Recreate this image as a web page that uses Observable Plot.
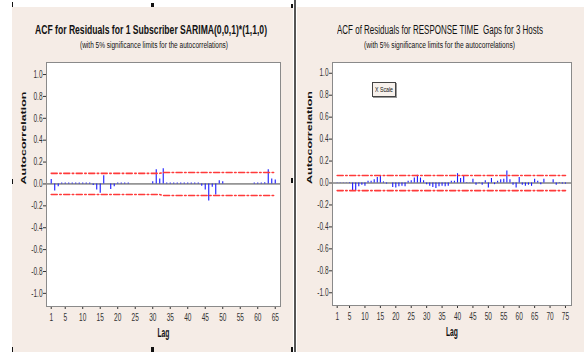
<!DOCTYPE html>
<html><head><meta charset="utf-8">
<script src="https://cdn.jsdelivr.net/npm/d3@7"></script>
<script src="https://cdn.jsdelivr.net/npm/@observablehq/plot@0.6"></script>
<style>
html,body{margin:0;padding:0;background:#fff;}
#root{position:relative;width:584px;height:352px;overflow:hidden;background:#fff;font-family:"Liberation Sans",Arial,sans-serif;}
.panel{position:absolute;background:#f5ece6;}
.txt{position:absolute;white-space:pre;color:#111;transform-origin:0 0;line-height:1;}
.plotbox{position:absolute;}
.plotbox svg{display:block;}
.handle{position:absolute;background:#111;}
#xscale{position:absolute;left:372px;top:82px;width:22px;height:13px;border:1px solid #444;background:#f7f1ec;box-shadow:1px 1px 0 #999;}
#xscale span{position:absolute;left:2px;top:3px;font-size:7px;white-space:nowrap;transform-origin:0 0;color:#111;line-height:1;}
</style></head><body>
<div id="root">
  <div class="panel" style="left:12px;top:7px;width:281px;height:345px;"></div>
  <div class="panel" style="left:297px;top:7px;width:287px;height:345px;"></div>
  <div style="position:absolute;left:294px;top:0;width:2px;height:352px;background:#555;"></div>
  <div class="handle" style="left:12px;top:2px;width:1px;height:5px;"></div>
  <div class="handle" style="left:151px;top:3px;width:3px;height:4px;"></div>
  <div class="handle" style="left:291px;top:4px;width:2px;height:4px;"></div>
  <div class="handle" style="left:12px;top:179px;width:1px;height:5px;"></div>
  <div class="handle" style="left:291px;top:178px;width:2px;height:5px;"></div>
  <div class="handle" style="left:12px;top:347px;width:1px;height:5px;"></div>
  <div class="handle" style="left:151px;top:347px;width:3px;height:5px;"></div>
  <div class="handle" style="left:291px;top:347px;width:2px;height:5px;"></div>

  <div class="txt" id="t1" style="left:35px;top:24px;font-size:12.5px;font-weight:bold;"></div>
  <div class="txt" id="s1" style="left:80px;top:41px;font-size:8.5px;"></div>
  <div class="txt" id="t2" style="left:337px;top:24px;font-size:12.5px;"></div>
  <div class="txt" id="s2" style="left:364px;top:41px;font-size:8.5px;"></div>

  <div class="plotbox" id="p1" style="left:12px;top:56px;"></div>
  <div class="plotbox" id="p2" style="left:297px;top:56px;"></div>
  <div id="xscale"><span id="xs"></span></div>
</div>
<script>
// ---- text ----
const titleLeft = "ACF for Residuals for 1 Subscriber SARIMA(0,0,1)*(1,1,0)";
const titleRight = "ACF of Residuals for RESPONSE TIME  Gaps for 3 Hosts";
const subtitle = "(with 5% significance limits for the autocorrelations)";
const xLabel = "Lag";
const yLabel = "Autocorrelation";
const boxLabel = "X Scale";

// ---- ticks ----
const lagTicksLeft = [1,5,10,15,20,25,30,35,40,45,50,55,60,65];
const lagTicksRight = [1,5,10,15,20,25,30,35,40,45,50,55,60,65,70,75];
const yTicks = [-1,-0.8,-0.6,-0.4,-0.2,0,0.2,0.4,0.6,0.8,1];

// ---- left chart: ACF by lag (lag = index + 1) ----
const acfLeft = [
  0.04,-0.065,-0.025,0.008,0.008,0.008,0.008,0.008,0.008,0.008,
  0.008,0.008,-0.015,-0.055,-0.085,0.075,0.0,-0.05,-0.025,0.008,
  0.008,0.008,0.008,0.0,0.0,0.0,0.0,0.0,0.0,0.02,
  0.13,0.045,0.14,0.008,0.008,0.008,0.008,0.008,0.008,0.008,
  0.008,0.008,0.008,-0.02,-0.055,-0.155,-0.03,-0.1,0.03,0.02,
  0.0,0.0,0.0,0.0,0.0,0.0,0.0,0.0,0.008,0.008,
  0.008,0.01,0.13,0.045,0.035
];
// significance limit breakpoints [lag, limit]
const limitLeft = [[1,0.097],[32,0.097],[33,0.105],[65,0.105]];

// ---- right chart ----
const acfRight = [
  -0.003,-0.003,-0.003,-0.003,-0.005,-0.07,-0.07,-0.035,-0.02,-0.03,
  0.015,0.015,0.03,0.05,0.06,0.01,-0.01,0.0,-0.04,-0.045,
  -0.035,-0.03,-0.035,0.015,0.02,0.045,0.07,0.045,0.02,-0.015,
  -0.03,-0.04,-0.05,-0.035,-0.03,-0.035,-0.03,0.015,0.015,0.085,
  0.04,0.065,0.005,0.003,0.035,-0.02,-0.005,-0.02,0.02,-0.045,
  0.04,-0.015,0.015,0.03,0.035,0.11,0.03,-0.02,-0.045,0.05,
  -0.02,-0.03,-0.02,-0.03,0.035,0.015,-0.015,0.035,0.0,0.0,
  0.03,-0.02,0.005,-0.01,-0.01
];
const limitRight = [[1,0.069],[75,0.069]];

function makeChart({acf, lims, ticks, xDomain, yDomain, width, height, margins}) {
  const data = acf.map((v, i) => ({lag: i + 1, acf: v}));
  const up = lims.map(([lag, l]) => ({lag, v: l}));
  const lo = lims.map(([lag, l]) => ({lag, v: -l}));
  const red = {x: "lag", y: "v", stroke: "#ff3a3a", strokeWidth: 1.6, strokeDasharray: "6,2.5,1.5,2.5"};
  return Plot.plot({
    width, height, ...margins,
    style: {background: "transparent", fontFamily: '"Liberation Sans", Arial, sans-serif', fontSize: "10px", color: "#333", overflow: "visible"},
    x: {domain: xDomain, ticks, tickFormat: d => String(d), tickSize: 3, tickPadding: 4, label: null},
    y: {domain: yDomain, ticks: yTicks, tickFormat: d => d.toFixed(1), tickSize: 3, tickPadding: 1, label: null},
    marks: [
      Plot.frame({fill: "white", stroke: "none"}),
      Plot.ruleY([0], {stroke: "#444", strokeWidth: 1}),
      Plot.ruleX(data, {x: "lag", y1: 0, y2: "acf", stroke: "#1a1aff", strokeWidth: 1.1}),
      Plot.line(up, red),
      Plot.line(lo, red),
      Plot.frame({stroke: "#8a8a8a"}),
      Plot.text([xLabel], {text: d => d, frameAnchor: "bottom", dy: 30, fontWeight: "bold", fontSize: 12, fill: "#111"}),
      Plot.text([yLabel], {text: d => d, frameAnchor: "left", dx: -23, rotate: -90, fontWeight: "bold", fontSize: 12.5, fill: "#111"})
    ]
  });
}

function squeezeSvg(svg, k, labelLen) {
  svg.querySelectorAll('g[aria-label$="tick label"] text').forEach(t => {
    const L = t.getComputedTextLength();
    t.setAttribute("textLength", (L * k).toFixed(2));
    t.setAttribute("lengthAdjust", "spacingAndGlyphs");
  });
  svg.querySelectorAll('text').forEach(t => {
    if (t.textContent === xLabel) {
      t.setAttribute("textLength", labelLen);
      t.setAttribute("lengthAdjust", "spacingAndGlyphs");
    } else if (t.textContent === yLabel) {
      const tr = t.getAttribute("transform") || "";
      t.setAttribute("transform", tr + " scale(1,0.6)");
    }
  });
}

const c1 = makeChart({acf: acfLeft, lims: limitLeft, ticks: lagTicksLeft,
  xDomain: [-0.35, 66.5], yDomain: [-1.12, 1.11], width: 281, height: 296,
  margins: {marginLeft: 34, marginRight: 13, marginTop: 6, marginBottom: 46}});
document.getElementById("p1").appendChild(c1);
squeezeSvg(c1, 0.65, 12);

const c2 = makeChart({acf: acfRight, lims: limitRight, ticks: lagTicksRight,
  xDomain: [-0.52, 76.95], yDomain: [-1.116, 1.098], width: 287, height: 296,
  margins: {marginLeft: 35, marginRight: 13, marginTop: 6, marginBottom: 47}});
document.getElementById("p2").appendChild(c2);
squeezeSvg(c2, 0.65, 12);

function fit(id, text, target) {
  const el = document.getElementById(id);
  el.textContent = text;
  const w = el.getBoundingClientRect().width;
  el.style.transform = `scaleX(${target / w})`;
}
fit("t1", titleLeft, 232);
fit("s1", subtitle, 148);
fit("t2", titleRight, 206);
fit("s2", subtitle, 151);
fit("xs", boxLabel, 18);
</script>
</body></html>
